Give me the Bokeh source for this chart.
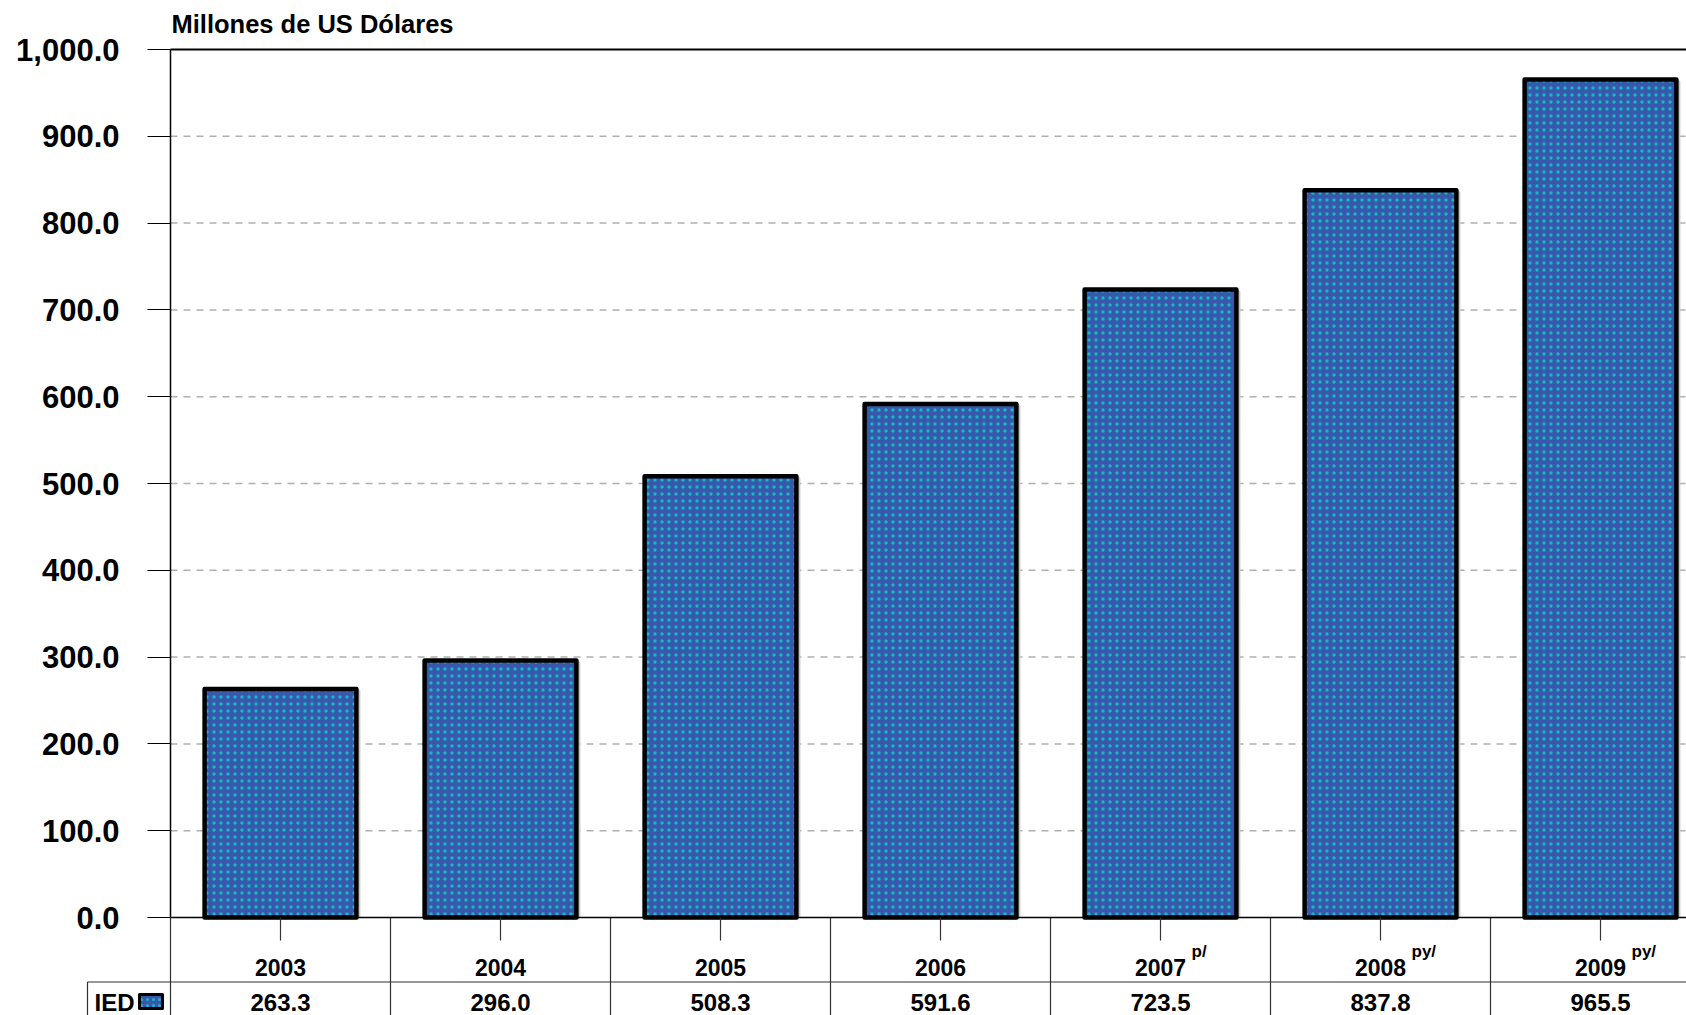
from bokeh.plotting import figure
from bokeh.models import Range1d, LinearAxis, FixedTicker, NumeralTickFormatter
from bokeh.core.properties import value
from bokeh.embed import file_html
from bokeh.resources import INLINE

# ---- data ----
years = ["2003", "2004", "2005", "2006", "2007", "2008", "2009"]
year_notes = ["", "", "", "", "p/", "py/", "py/"]
ied = [263.3, 296.0, 508.3, 591.6, 723.5, 837.8, 965.5]
y_ticks = [0, 100, 200, 300, 400, 500, 600, 700, 800, 900, 1000]
grid_ticks = [100, 200, 300, 400, 500, 600, 700, 800, 900]
series_name = "IED"
y_title = "Millones de US Dólares"

# ---- layout (page pixels of the reference) ----
W, H = 1686, 1015
OX, OY = 0, 0
AX_X, CAT_W = 170.0, 220.0
ZERO_Y, TOP_Y = 917.0, 49.0
PPU = (ZERO_Y - TOP_Y) / 1000.0
FONT = "Liberation Sans"
BLUE = "#3858ab"
CYAN = "#14b8c6"


def dx(gx):
    return (gx - AX_X) / CAT_W


def dy(gy):
    return (ZERO_Y - gy) / PPU


x_range = Range1d(dx(OX), dx(OX + W))
y_range = Range1d(dy(OY + H), dy(OY))

p = figure(width=W, height=H, x_range=x_range, y_range=y_range,
           x_axis_type=None, y_axis_type=None, toolbar_location=None,
           output_backend="svg", min_border=0, outline_line_color=None,
           background_fill_color="white", border_fill_color="white")
p.xgrid.visible = False
p.ygrid.visible = False

n = len(years)
centers = [i + 0.5 for i in range(n)]
xmax = x_range.end

# dashed gridlines
p.segment(x0=[0] * len(grid_ticks), x1=[xmax + 1] * len(grid_ticks),
          y0=grid_ticks, y1=grid_ticks, line_color="#b0b0b0",
          line_width=1.5, line_dash="7 6")

# top border
p.segment(x0=[0], x1=[xmax + 1], y0=[y_ticks[-1]], y1=[y_ticks[-1]],
          line_color="black", line_width=2)

# bar shadows
p.vbar(x=[c + 2.0 / CAT_W for c in centers], top=[v - 2.0 / PPU for v in ied],
       bottom=0, width=0.69, fill_color="#c8c8c8", line_color="#c8c8c8", line_width=4)

# bars
p.vbar(x=centers, top=ied, bottom=0, width=0.69, fill_color=BLUE,
       line_color="black", line_width=4.5, line_join="round",
       hatch_pattern="dot", hatch_color=CYAN, hatch_scale=7, hatch_weight=4)

# data table lines
ybot = y_range.start - 5
p.segment(x0=list(range(n + 1)), x1=list(range(n + 1)),
          y0=[0] * (n + 1), y1=[ybot] * (n + 1), line_color="#303030", line_width=1.2)
p.segment(x0=[dx(87)], x1=[xmax + 1], y0=[dy(981.5)], y1=[dy(981.5)],
          line_color="#303030", line_width=1.2)
p.segment(x0=[dx(87)], x1=[dx(87)], y0=[dy(981.5)], y1=[ybot],
          line_color="#303030", line_width=1.2)

# values row
p.text(x=centers, y=[dy(1001.5)] * n, text=[f"{v:.1f}" for v in ied],
       text_font=value(FONT), text_font_style="bold", text_font_size="24px",
       text_align="center", text_baseline="middle", text_color="black")

# superscripts
note_x = [c + 31 / CAT_W for c, t in zip(centers, year_notes) if t]
note_t = [t for t in year_notes if t]
p.text(x=note_x, y=[dy(951)] * len(note_t), text=note_t,
       text_font=value(FONT), text_font_style="bold", text_font_size="17px",
       text_align="left", text_baseline="middle", text_color="black")

# series label + swatch
p.text(x=[dx(94)], y=[dy(1001.5)], text=[series_name],
       text_font=value(FONT), text_font_style="bold", text_font_size="24px",
       text_align="left", text_baseline="middle", text_color="black")
p.quad(left=[dx(139)], right=[dx(162)], top=[dy(994)], bottom=[dy(1008)],
       fill_color=BLUE, line_color="black", line_width=3, line_join="round",
       hatch_pattern="dot", hatch_color=CYAN, hatch_scale=6, hatch_weight=2)

# title
p.text(x=[dx(171)], y=[dy(23)], text=[y_title],
       text_font=value(FONT), text_font_style="bold", text_font_size="25.5px",
       text_align="left", text_baseline="middle", text_color="black")

# y axis
yax = LinearAxis(fixed_location=0, ticker=FixedTicker(ticks=y_ticks),
                 formatter=NumeralTickFormatter(format="0,0.0"),
                 bounds=(y_ticks[0], y_ticks[-1]))
yax.major_tick_out = 23
yax.major_tick_in = 0
yax.minor_tick_out = 0
yax.minor_tick_in = 0
yax.axis_line_color = "black"
yax.axis_line_width = 1.5
yax.major_tick_line_color = "black"
yax.major_tick_line_width = 1.2
yax.major_label_text_font = FONT
yax.major_label_text_font_size = "31px"
yax.major_label_text_font_style = "bold"
yax.major_label_text_color = "black"
yax.major_label_standoff = 28
p.add_layout(yax, "left")

# x axis (categories)
xax = LinearAxis(fixed_location=0, ticker=FixedTicker(ticks=centers),
                 bounds=(0, xmax + 1),
                 major_label_overrides={c: y for c, y in zip(centers, years)})
xax.major_tick_out = 23
xax.major_tick_in = 0
xax.minor_tick_out = 0
xax.minor_tick_in = 0
xax.axis_line_color = "black"
xax.axis_line_width = 1.5
xax.major_tick_line_color = "#333333"
xax.major_tick_line_width = 1.2
xax.major_label_text_font = FONT
xax.major_label_text_font_size = "23px"
xax.major_label_text_font_style = "bold"
xax.major_label_text_color = "black"
xax.major_label_standoff = 18
p.add_layout(xax, "below")

open("out.html", "w").write(file_html(p, INLINE))
